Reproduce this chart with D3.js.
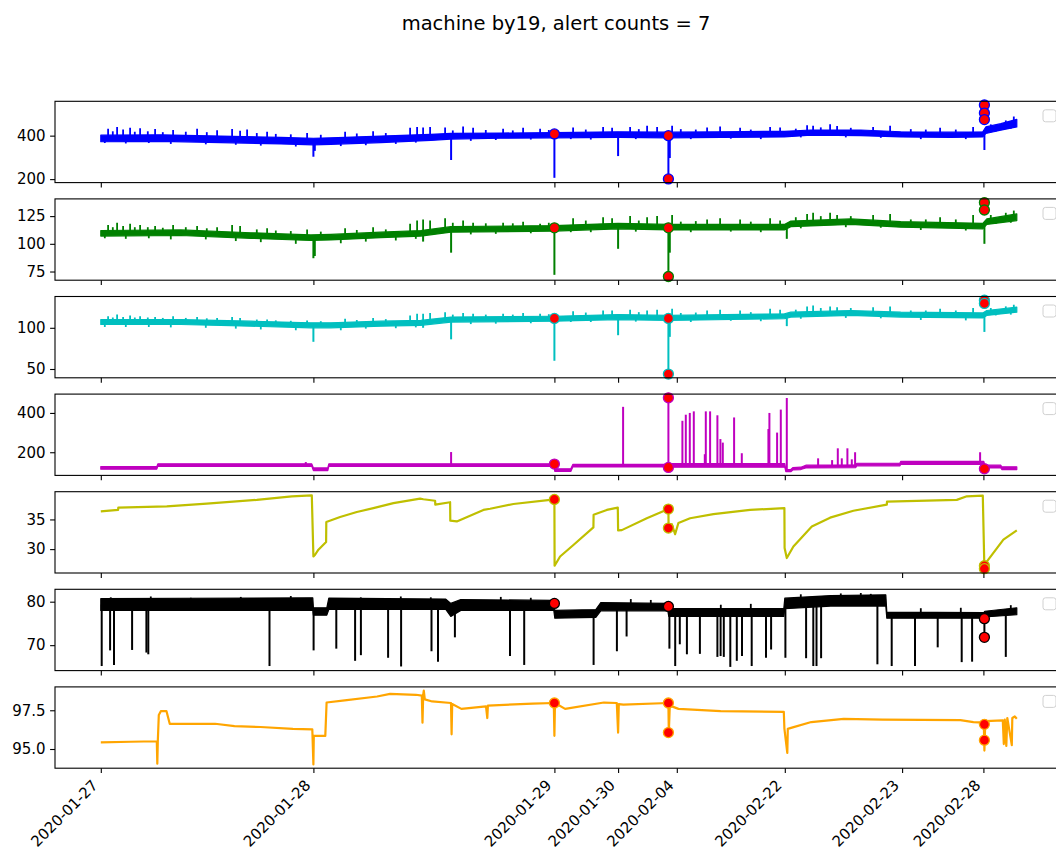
<!DOCTYPE html>
<html>
<head>
<meta charset="utf-8">
<script src="https://cdn.jsdelivr.net/npm/d3@7"></script>
<style>
body { margin: 0; background: #fff; }
svg { font-family: "DejaVu Sans", sans-serif; }
</style>
</head>
<body>
<div id="chart"></div>
<script>
var title = 'machine by19, alert counts = 7';

// x is the sample index, ticks are the first sample of each day
var dateLabels = ['2020-01-27', '2020-01-28', '2020-01-29', '2020-01-30', '2020-02-04', '2020-02-22', '2020-02-23', '2020-02-28'];
var dateIdx = [0, 2126, 4536, 5173, 5760, 6840, 8013, 8826];
var lastIdx = 9160;

// ---- panel 1 (blue) : [idx, low, high] of the noisy band
var blueBand = [[0,372,402],[600,374,404],[1200,368,398],[1800,362,392],[2126,358,388],[2300,360,390],[2800,368,398],[3300,378,406],[3500,384,410],[4000,388,412],[4536,390,414],[5173,392,418],[5676,390,416],[6200,392,418],[6836,394,420],[7100,402,426],[7600,400,426],[8000,394,418],[8500,392,416],[8820,394,418],[8850,410,440],[9000,425,455],[9160,440,475]];
var blueHairs = [[73,432],[120,420],[163,440],[223,428],[293,436],[340,418],[393,434],[470,420],[543,430],[620,416],[723,426],[850,418],[963,432],[1060,416],[1163,425],[1313,430],[1393,422],[1463,428],[1560,412],[1663,418],[1750,408],[1900,406],[2063,412],[2200,404],[2443,418],[2560,410],[2723,420],[2850,412],[3093,436],[3163,440],[3223,437],[3293,440],[3443,438],[3520,424],[3623,442],[3723,436],[3850,426],[4023,432],[4120,424],[4223,436],[4393,432],[4480,426],[4723,438],[4850,428],[5023,440],[5113,436],[5293,440],[5380,430],[5463,446],[5563,440],[5713,445],[5800,430],[5950,428],[6063,438],[6193,442],[6393,436],[6500,428],[6693,440],[6793,438],[6950,432],[7063,448],[7123,446],[7200,438],[7293,452],[7363,444],[7500,436],[7723,440],[7893,446],[8100,430],[8250,428],[8393,436],[8550,428],[8723,440],[8900,452],[9050,470],[9130,488]];
var blueDips = [[40,366],[250,364],[480,366],[700,362],[1050,360],[1350,358],[1600,354],[1950,350],[2400,352],[2650,356],[2950,362],[3150,368],[3700,376],[3950,380],[4300,382],[4700,384],[4900,382],[5350,384],[5900,384],[6300,386],[6600,384],[7000,392],[7450,392],[7800,390],[8200,384],[8650,384],[8950,420],[9100,432]];
var blueSpikes = [[2126,303],[2140,330],[3503,288],[4536,206],[5173,306],[5690,297],[5676,201],[8836,334]];
var blueAlerts = [[4536,408],[5676,400],[5676,201],[8836,541],[8836,504],[8836,474]];
var blueTicks = [200, 400];

// ---- panel 2 (green)
var greenBand = [[0,107,112],[800,107.5,112.5],[1500,105,110],[2100,103,108],[2300,103.5,108.5],[2800,105.5,110.5],[3200,107,112],[3500,110.5,115.5],[4536,111.5,116.5],[5173,113.5,118.5],[5676,112.5,117.5],[6836,112.5,117.5],[6900,115.5,120.5],[7500,117.5,122.5],[8000,115,120],[8820,113.5,118.5],[8860,117.5,122.5],[9160,121,127]];
var greenHairs = [[73,117],[120,115],[163,119],[223,116],[293,118],[340,115],[393,117],[470,115],[543,116],[620,114.5],[723,117],[850,115],[963,116],[1060,114],[1163,115],[1313,117],[1393,116],[1560,113],[1663,114],[1750,112],[1900,111.5],[2063,113],[2200,111],[2443,114],[2560,112.5],[2723,115],[2850,113],[3093,118],[3163,121],[3223,122],[3293,121],[3443,123],[3520,119],[3623,121],[3723,119],[3850,118.5],[4023,119],[4120,118.5],[4223,120],[4393,118],[4480,119],[4723,123],[4850,121],[5023,124],[5113,123],[5293,125],[5380,121],[5463,124],[5563,125],[5713,126],[5800,120],[5950,120.5],[6063,122],[6193,123],[6393,122],[6500,120],[6693,123],[6793,121],[6950,124],[7063,127],[7123,128],[7200,125],[7293,128],[7363,126],[7500,125],[7723,126],[7893,127],[8100,122],[8250,122],[8393,124],[8550,122],[8723,126],[8900,126],[9050,128],[9130,130]];
var greenDips = [[40,105],[250,104.5],[480,105],[700,104],[1050,104],[1350,102.5],[1600,101.5],[1950,100],[2400,100.5],[2650,102],[2950,103],[3150,104.5],[3700,108.5],[3950,109],[4300,109.5],[4700,110.5],[4900,110.5],[5350,111],[5900,110.5],[6300,111],[6600,110.5],[7000,114],[7450,115],[7800,114.5],[8200,112.5],[8650,112],[8950,118],[9100,119]];
var greenSpikes = [[2126,87],[2140,89],[3223,102],[3503,92],[4536,72],[5173,95.5],[5690,92],[5676,70.5],[6860,104.5],[8836,100]];
var greenAlerts = [[4536,114.4],[5676,114.4],[5676,70.5],[8836,137.2],[8836,130.5]];
var greenTicks = [75, 100, 125];

// ---- panel 3 (cyan)
var cyanBand = [[0,104,110],[800,104,110],[1500,102,108],[2100,100,106],[2300,100,106],[2800,102,108],[3200,103,109],[3500,107,113],[4536,108,114],[5173,110,116],[5676,109,115],[6836,111,117],[6900,113,119],[7500,115,121],[8000,113,119],[8820,112,118],[8860,115,121],[9160,119,125]];
var cyanHairs = [[73,114],[120,112.5],[163,116],[223,113],[293,115],[340,112.5],[393,114],[470,112.5],[543,113],[620,112],[723,114],[850,112],[963,113],[1060,111.5],[1163,112],[1313,113],[1393,112],[1560,110],[1663,110],[1750,109],[1900,108.5],[2063,109],[2200,108],[2443,111],[2560,109.5],[2723,112],[2850,110.5],[3093,115],[3163,117],[3223,117],[3293,118],[3443,119],[3520,116],[3623,118],[3723,117],[3850,116],[4023,117],[4120,116],[4223,118],[4393,117],[4480,116.5],[4723,120],[4850,118.5],[5023,121],[5113,121],[5293,122],[5380,119],[5463,121],[5563,122],[5713,123],[5800,118],[5950,118.5],[6063,121],[6193,122],[6393,121],[6500,119],[6693,123],[6793,122],[6950,122],[7063,126],[7123,127],[7200,124],[7293,126],[7363,125],[7500,124],[7723,125],[7893,126],[8100,121],[8250,121],[8393,123],[8550,121],[8723,124],[8900,124],[9050,126],[9130,128]];
var cyanDips = [[40,101],[250,101],[480,101],[700,100.5],[1050,100],[1350,99],[1600,98],[1950,97],[2400,97],[2650,99],[2950,99.5],[3150,100.5],[3700,104.5],[3950,105],[4300,105.5],[4700,107],[4900,107],[5350,107.5],[5900,107],[6300,108.5],[6600,108],[7000,111],[7450,112],[7800,111.5],[8200,109.5],[8650,109],[8950,115],[9100,116]];
var cyanSpikes = [[2126,83],[3223,100],[3503,86],[4536,60],[5173,91],[5690,89],[5676,43.8],[6860,102],[8836,95]];
var cyanAlerts = [[4536,111.4],[5676,111.4],[5676,43.8],[8836,133.5],[8836,129.6]];
var cyanTicks = [50, 100];

// ---- panel 4 (magenta)
var magentaBand = [[0,114,127],[560,114,127],[570,128,141],[2110,128,141],[2126,107,120],[2270,107,120],[2280,128,141],[4530,128,141],[4540,102,116],[4700,102,116],[4720,125,138],[5670,125,138],[5680,124,142],[6840,124,142],[6850,101,112],[6900,101,112],[6920,110,122],[7000,112,124],[7050,120,134],[7550,122,136],[7560,131,144],[7990,131,144],[8000,138,154],[8830,138,154],[8840,120,134],[9000,120,134],[9010,112,126],[9160,112,126]];
var magentaSpikes = [[2050,150],[3503,201],[5223,431],[5676,477],[5816,360],[5850,391],[5890,400],[5930,408],[6040,190],[6050,408],[6093,408],[6166,388],[6196,267],[6220,249],[6333,377],[6410,195],[6676,318],[6686,400],[6763,300],[6800,417],[6860,476],[7173,169],[7313,160],[7370,220],[7410,169],[7466,220],[7510,164],[7543,200],[8793,200]];
var magentaAlerts = [[4536,140],[5676,477],[5676,123],[8836,116]];
var magentaTicks = [200, 400];

// ---- panel 5 (olive) : [idx, value]
var oliveLine = [[0,36.35],[173,36.6],[175,37.0],[660,37.2],[1060,37.65],[1560,38.3],[1910,38.9],[2110,39.05],[2126,28.76],[2143,29.05],[2176,29.9],[2253,31.2],[2255,34.56],[2393,35.4],[2560,36.25],[2726,36.9],[2926,37.75],[3193,38.5],[3226,38.4],[3343,38.15],[3345,37.5],[3493,37.9],[3495,34.8],[3560,34.67],[3826,36.6],[3893,36.8],[4126,37.6],[4493,38.3],[4536,38.37],[4538,27.2],[4593,28.76],[4726,30.7],[4926,33.65],[4928,35.8],[5060,36.6],[5170,37.0],[5173,33.15],[5210,33.2],[5460,35.2],[5676,36.75],[5678,33.55],[5710,34.2],[5743,32.5],[5776,34.4],[5893,35.2],[6126,35.9],[6493,36.6],[6836,36.9],[6838,30.2],[6860,28.5],[6926,30.45],[7110,33.8],[7293,35.3],[7526,36.47],[7860,37.5],[7862,38.0],[8560,38.3],[8660,38.9],[8820,39.0],[8836,26.6],[8860,27.9],[9026,31.6],[9160,33.15]];
var oliveAlerts = [[4536,38.37],[5676,36.75],[5676,33.55],[8836,27.2],[8836,26.7]];
var oliveTicks = [30, 35];

// ---- panel 6 (black)
var blackBand = [[0,78.0,80.7],[2120,78.0,80.9],[2126,76.9,78.6],[2260,76.9,78.6],[2280,78.2,80.8],[3450,78.2,80.6],[3500,76.6,79.6],[3600,78.0,80.5],[4530,78.0,80.3],[4540,76.2,78.0],[4950,76.4,78.2],[5000,77.9,79.8],[5670,77.9,79.6],[5680,76.6,78.4],[6830,76.6,78.4],[6840,78.4,80.8],[7300,79.0,81.4],[7850,79.0,81.6],[7860,76.2,77.6],[8830,76.2,77.5],[8840,76.5,77.8],[9160,77.0,78.6]];
var blackHairs = [[100,81.0],[500,81.2],[900,80.9],[1400,81.1],[1900,81.3],[2600,81.0],[3000,81.2],[3300,81.0],[4000,81.1],[4300,80.9],[5300,80.6],[5500,80.4],[6200,79.3],[6500,79.5],[7000,81.7],[7400,81.9],[7600,82.0],[7700,81.8],[8200,78.5],[8600,78.6],[9100,79.2]];
var blackDips = [];
var blackSpikes = [[9,65.2],[93,68.8],[132,65.45],[313,68.9],[456,68.3],[475,67.9],[1687,65.2],[2128,68.8],[2355,69.2],[2543,66.4],[2601,67.7],[2873,67.1],[3003,65.1],[3307,68.6],[3372,66.2],[3541,71.8],[4092,67.5],[4234,65.45],[4928,65.45],[5161,68.6],[5258,72.0],[5686,69.2],[5744,65.2],[5790,70.2],[5861,67.9],[5991,68.0],[6166,67.3],[6198,67.5],[6230,67.3],[6295,65.0],[6360,66.4],[6412,67.5],[6509,65.2],[6652,67.1],[6703,69.0],[6846,67.1],[7053,67.0],[7125,65.2],[7157,65.2],[7203,67.0],[7766,65.6],[7909,65.2],[8142,65.2],[8369,69.5],[8609,66.1],[8713,66.2],[8836,71.8],[9050,67.3]];
var blackAlerts = [[4536,79.6],[5676,78.9],[8836,76.1],[8836,71.8]];
var blackTicks = [70, 80];

// ---- panel 7 (orange)
var orangeLine = [[0,95.43],[300,95.47],[560,95.5],[565,94.05],[570,95.5],[580,97.2],[600,97.44],[657,97.44],[690,96.62],[1143,96.63],[1337,96.48],[1597,96.42],[1921,96.3],[2115,96.27],[2126,94.0],[2130,95.85],[2245,95.85],[2258,98.0],[2439,98.14],[2763,98.39],[2893,98.56],[3152,98.5],[3210,98.45],[3217,96.7],[3224,98.5],[3230,98.77],[3240,98.2],[3314,98.07],[3502,97.97],[3508,95.95],[3514,97.9],[3606,97.59],[3852,97.75],[3865,97.0],[3871,97.8],[4319,97.93],[4530,97.97],[4536,95.85],[4542,97.97],[4643,97.59],[5031,98.0],[5160,97.97],[5173,96.06],[5180,97.9],[5226,97.86],[5676,97.97],[5680,96.06],[5690,97.8],[5777,97.59],[6198,97.44],[6830,97.4],[6836,96.32],[6865,94.75],[6870,96.3],[6911,96.38],[7105,96.74],[7429,96.95],[7818,96.9],[8596,96.86],[8726,96.74],[8830,96.7],[8836,94.9],[8845,96.8],[9020,96.85],[9030,95.32],[9040,96.9],[9055,95.2],[9065,97.0],[9110,95.25],[9115,97.0],[9140,97.1],[9160,96.95]];
var orangeAlerts = [[4536,97.97],[5676,97.97],[5676,96.06],[8836,96.59],[8836,95.57]];
var orangeTicks = [95.0, 97.5];

var panels = [
    { color: '#0000ff', band: blueBand, hairs: blueHairs, dips: blueDips, spikes: blueSpikes, alerts: blueAlerts, ticks: blueTicks, fmt: d3.format('d') },
    { color: '#008000', band: greenBand, hairs: greenHairs, dips: greenDips, spikes: greenSpikes, alerts: greenAlerts, ticks: greenTicks, fmt: d3.format('d') },
    { color: '#00bfbf', band: cyanBand, hairs: cyanHairs, dips: cyanDips, spikes: cyanSpikes, alerts: cyanAlerts, ticks: cyanTicks, fmt: d3.format('d') },
    { color: '#bf00bf', band: magentaBand, hairs: [], dips: [], spikes: magentaSpikes, alerts: magentaAlerts, ticks: magentaTicks, fmt: d3.format('d') },
    { color: '#bfbf00', line: oliveLine, alerts: oliveAlerts, ticks: oliveTicks, fmt: d3.format('d') },
    { color: '#000000', band: blackBand, hairs: blackHairs, dips: blackDips, spikes: blackSpikes, alerts: blackAlerts, ticks: blackTicks, fmt: d3.format('d') },
    { color: '#ffa500', line: orangeLine, alerts: orangeAlerts, ticks: orangeTicks, fmt: d3.format('.1f') }
];

var width = 1056, height = 852;
var left = 55, plotW = 1007.6;
var top0 = 101.3, ph = 81.3, gap = 16.3;
var tickLen = 4.9, fontSize = '15px';

var svg = d3.select('#chart').append('svg')
    .attr('width', width)
    .attr('height', height)
    .attr('viewBox', [0, 0, width, height])

svg.append('rect').attr('width', width).attr('height', height).attr('fill', '#fff')

svg.append('text')
    .attr('x', 556)
    .attr('y', 30)
    .attr('text-anchor', 'middle')
    .attr('font-size', '19.5px')
    .text(title)

var x = d3.scaleLinear()
    .domain([-0.05 * lastIdx, 1.05 * lastIdx])
    .range([left, left + plotW])

var bisect = d3.bisector(d => d[0]).center;

panels.forEach(function (p, i) {
    var top = top0 + i * (ph + gap);
    var bottom = top + ph;

    // y extent from every plotted value, 5% margin like matplotlib
    var vals = [];
    if (p.band) p.band.forEach(d => vals.push(d[1], d[2]));
    if (p.line) p.line.forEach(d => vals.push(d[1]));
    (p.hairs || []).forEach(d => vals.push(d[1]));
    (p.spikes || []).forEach(d => vals.push(d[1]));
    p.alerts.forEach(d => vals.push(d[1]));
    var ext = d3.extent(vals);
    var pad = (ext[1] - ext[0]) * 0.05;
    var y = d3.scaleLinear().domain([ext[0] - pad, ext[1] + pad]).range([bottom, top]);

    var g = svg.append('g').attr('class', 'panel')

    if (p.band) {
        var area = d3.area()
            .x(d => x(d[0]))
            .y0(d => y(d[1]))
            .y1(d => y(d[2]));
        g.append('path')
            .attr('d', area(p.band))
            .attr('fill', p.color)
            .attr('stroke', p.color)
            .attr('stroke-width', 1.2)
            .attr('stroke-linejoin', 'round')

        var mid = function (idx) {
            var b = p.band[bisect(p.band, idx)];
            return (b[1] + b[2]) / 2;
        };
        var ticksUpDown = p.hairs.concat(p.dips);
        g.selectAll('.hair').data(ticksUpDown).join('line').attr('class', 'hair')
            .attr('x1', d => x(d[0])).attr('x2', d => x(d[0]))
            .attr('y1', d => y(mid(d[0]))).attr('y2', d => y(d[1]))
            .attr('stroke', p.color)
            .attr('stroke-width', 1.8)
        g.selectAll('.spike').data(p.spikes).join('line').attr('class', 'spike')
            .attr('x1', d => x(d[0])).attr('x2', d => x(d[0]))
            .attr('y1', d => y(mid(d[0]))).attr('y2', d => y(d[1]))
            .attr('stroke', p.color)
            .attr('stroke-width', 2)
    }

    if (p.line) {
        var line = d3.line().x(d => x(d[0])).y(d => y(d[1]));
        g.append('path')
            .attr('d', line(p.line))
            .attr('fill', 'none')
            .attr('stroke', p.color)
            .attr('stroke-width', 2.2)
            .attr('stroke-linejoin', 'round')
    }

    g.selectAll('.alert').data(p.alerts).join('circle').attr('class', 'alert')
        .attr('cx', d => x(d[0]))
        .attr('cy', d => y(d[1]))
        .attr('r', 5)
        .attr('fill', '#ff0000')
        .attr('stroke', p.color)
        .attr('stroke-width', 1.3)

    // axes
    var yAxis = d3.axisLeft(y).tickValues(p.ticks).tickFormat(p.fmt)
        .tickSize(tickLen).tickSizeOuter(0).tickPadding(4.5);
    var ya = svg.append('g').attr('transform', `translate(${left},0)`).call(yAxis);
    ya.select('.domain').remove();
    ya.selectAll('line').attr('stroke-width', 1.1);
    ya.selectAll('text').attr('font-size', fontSize).attr('font-family', '"DejaVu Sans", sans-serif').attr('fill', '#000');

    var xAxis = d3.axisBottom(x).tickValues(dateIdx).tickSize(tickLen).tickSizeOuter(0)
        .tickFormat((d, k) => i === panels.length - 1 ? dateLabels[k] : '');
    var xa = svg.append('g').attr('transform', `translate(0,${bottom})`).call(xAxis);
    xa.select('.domain').remove();
    xa.selectAll('line').attr('stroke-width', 1.1);
    xa.selectAll('text')
        .attr('font-size', fontSize)
        .attr('font-family', '"DejaVu Sans", sans-serif')
        .attr('fill', '#000')
        .attr('text-anchor', 'end')
        .attr('x', 0).attr('y', 0).attr('dy', null)
        .attr('transform', 'translate(-2.5,18) rotate(-45)')

    svg.append('rect')
        .attr('x', left).attr('y', top)
        .attr('width', plotW).attr('height', ph)
        .attr('fill', 'none')
        .attr('stroke', '#000')
        .attr('stroke-width', 1.1)

    // empty legend box
    svg.append('rect')
        .attr('x', 1043).attr('y', top + 8.5)
        .attr('width', 13).attr('height', 12)
        .attr('rx', 2.5)
        .attr('fill', '#fff')
        .attr('stroke', '#d0d0d0')
        .attr('stroke-width', 1)
});
</script>
</body>
</html>
